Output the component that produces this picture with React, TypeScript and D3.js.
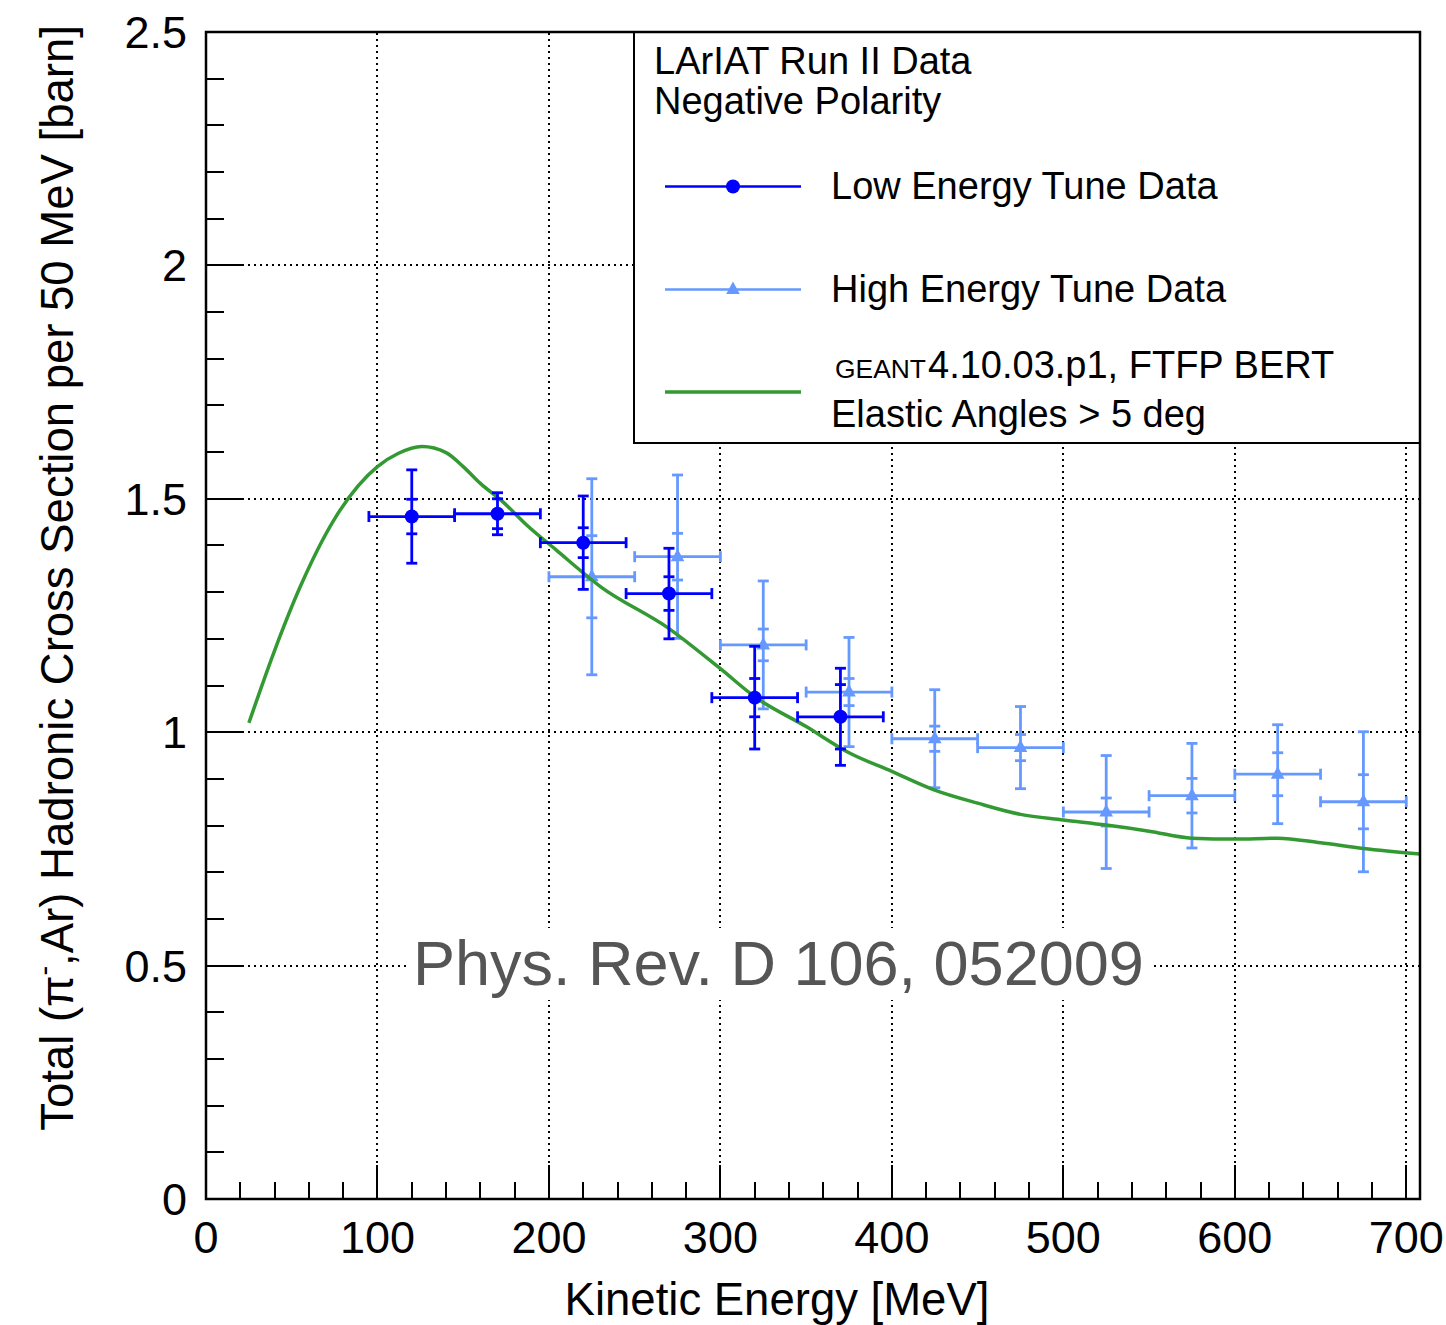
import React from "react";
import * as d3 from "d3";

// ---------- data ----------
const lowE = [120, 170, 220, 270, 320, 370];
const lowY = [1.462, 1.468, 1.406, 1.297, 1.074, 1.033];
const lowStat = [0.037, 0.032, 0.032, 0.036, 0.041, 0.069];
const lowTot = [0.1, 0.045, 0.1, 0.097, 0.11, 0.104];

const highE = [225, 275, 325, 375, 425, 475, 525, 575, 625, 675];
const highY = [1.333, 1.376, 1.187, 1.086, 0.986, 0.967, 0.829, 0.864, 0.91, 0.851];
const highStat = [0.088, 0.05, 0.034, 0.029, 0.027, 0.028, 0.03, 0.037, 0.046, 0.058];
const highTot = [0.21, 0.175, 0.137, 0.117, 0.105, 0.088, 0.121, 0.112, 0.106, 0.15];

const binHalfWidth = 25;

const g4E = [25, 40, 55, 75, 100, 112, 126, 140, 150, 160, 173, 187, 204, 230, 270, 300, 320, 350, 375, 400, 425, 450, 475, 500, 525, 550, 575, 600, 625, 650, 675, 708];
const g4Y = [1.02, 1.175, 1.312, 1.457, 1.569, 1.597, 1.612, 1.599, 1.569, 1.533, 1.494, 1.444, 1.391, 1.312, 1.222, 1.136, 1.076, 1.012, 0.956, 0.916, 0.876, 0.848, 0.824, 0.812, 0.801, 0.788, 0.773, 0.771, 0.773, 0.763, 0.751, 0.739];

const xMajorTicks = [0, 100, 200, 300, 400, 500, 600, 700];
const yMajorTicks = [0, 0.5, 1, 1.5, 2, 2.5];
const yTickLabels = ["0", "0.5", "1", "1.5", "2", "2.5"];

const legendTitle = ["LArIAT Run II Data", "Negative Polarity"];
const legendLow = "Low Energy Tune Data";
const legendHigh = "High Energy Tune Data";
const legendG4Small = "GEANT";
const legendG4Rest = "4.10.03.p1, FTFP BERT";
const legendG4Line2 = "Elastic Angles > 5 deg";
const watermark = "Phys. Rev. D 106, 052009";
const xTitle = "Kinetic Energy [MeV]";

// ---------- styles ----------
const DARK = "#0000ff";
const LIGHT = "#6699ff";
const GREEN = "#339933";
const FONT = "'Liberation Sans', Arial, Helvetica, sans-serif";

const L = 206, R = 1420, T = 32, B = 1199;

export default function App() {
  const x = d3.scaleLinear().domain([0, 708]).range([L, R]);
  const y = d3.scaleLinear().domain([0, 2.5]).range([B, T]);

  const xMinor = d3.range(20, 708, 20).filter((v) => v % 100 !== 0);
  const yMinor = d3.range(1, 25).map((v) => v / 10).filter((v) => Math.round(v * 10) % 5 !== 0);

  const line = d3
    .line<number>()
    .x((_, i) => x(g4E[i]))
    .y((d) => y(d))
    .curve(d3.curveMonotoneX);

  const cap = 5.5;

  const errorBars = (
    E: number[],
    Y: number[],
    S: number[],
    Tt: number[],
    color: string,
    marker: "circle" | "triangle"
  ) =>
    E.map((e, i) => {
      const cx = x(e);
      const cy = y(Y[i]);
      const x0 = x(e - binHalfWidth);
      const x1 = x(e + binHalfWidth);
      const yT1 = y(Y[i] + Tt[i]);
      const yT0 = y(Y[i] - Tt[i]);
      const yS1 = y(Y[i] + S[i]);
      const yS0 = y(Y[i] - S[i]);
      return (
        <g key={i} stroke={color} strokeWidth={2.8} fill={color}>
          <line x1={x0} x2={x1} y1={cy} y2={cy} />
          <line x1={x0} x2={x0} y1={cy - cap} y2={cy + cap} />
          <line x1={x1} x2={x1} y1={cy - cap} y2={cy + cap} />
          <line x1={cx} x2={cx} y1={yT1} y2={yT0} />
          <line x1={cx - cap} x2={cx + cap} y1={yT1} y2={yT1} />
          <line x1={cx - cap} x2={cx + cap} y1={yT0} y2={yT0} />
          <line x1={cx - cap} x2={cx + cap} y1={yS1} y2={yS1} />
          <line x1={cx - cap} x2={cx + cap} y1={yS0} y2={yS0} />
          {marker === "circle" ? (
            <circle cx={cx} cy={cy} r={7} stroke="none" />
          ) : (
            <path d={`M${cx},${cy - 8}L${cx + 6.8},${cy + 4.5}L${cx - 6.8},${cy + 4.5}Z`} stroke="none" />
          )}
        </g>
      );
    });

  return (
    <svg
      width={1446}
      height={1325}
      style={{ position: "absolute", left: 0, top: 0, background: "#fff" }}
      fontFamily={FONT}
    >
      <rect x={0} y={0} width={1446} height={1325} fill="#fff" />
      {/* grid */}
      <g stroke="#000" strokeWidth={2} strokeDasharray="2 4" shapeRendering="crispEdges">
        {xMajorTicks.filter((v) => v > 0).map((v) => (
          <line key={"gx" + v} x1={Math.round(x(v))} x2={Math.round(x(v))} y1={B} y2={T} />
        ))}
        {yMajorTicks.filter((v) => v > 0 && v < 2.5).map((v) => (
          <line key={"gy" + v} x1={L} x2={R} y1={Math.round(y(v))} y2={Math.round(y(v))} />
        ))}
      </g>

      {/* ticks */}
      <g stroke="#000" strokeWidth={2} shapeRendering="crispEdges">
        {xMajorTicks.map((v) => (
          <line key={"xt" + v} x1={Math.round(x(v))} x2={Math.round(x(v))} y1={B} y2={B - 34} />
        ))}
        {xMinor.map((v) => (
          <line key={"xm" + v} x1={Math.round(x(v))} x2={Math.round(x(v))} y1={B} y2={B - 17} />
        ))}
        {yMajorTicks.map((v) => (
          <line key={"yt" + v} x1={L} x2={L + 36} y1={Math.round(y(v))} y2={Math.round(y(v))} />
        ))}
        {yMinor.map((v) => (
          <line key={"ym" + v} x1={L} x2={L + 18} y1={Math.round(y(v))} y2={Math.round(y(v))} />
        ))}
      </g>

      {/* watermark with white backing */}
      <rect x={409} y={928} width={745} height={72} fill="#fff" />
      <text x={413} y={985} fontSize={63} fill="#555555">
        {watermark}
      </text>

      {/* light blue data */}
      {errorBars(highE, highY, highStat, highTot, LIGHT, "triangle")}

      {/* GEANT4 curve */}
      <path d={line(g4Y) || ""} fill="none" stroke={GREEN} strokeWidth={3.5} />

      {/* dark blue data */}
      {errorBars(lowE, lowY, lowStat, lowTot, DARK, "circle")}

      {/* legend */}
      <rect x={634} y={T} width={R - 634} height={443 - T} fill="#fff" stroke="#000" strokeWidth={2} />
      <g fontSize={38} fill="#000">
        <text x={654} y={74}>{legendTitle[0]}</text>
        <text x={654} y={114}>{legendTitle[1]}</text>
        <text x={831} y={199}>{legendLow}</text>
        <text x={831} y={302}>{legendHigh}</text>
        <text x={835} y={378} fontSize={25} textLength={91} lengthAdjust="spacingAndGlyphs">
          {legendG4Small}
        </text>
        <text x={928} y={378}>{legendG4Rest}</text>
        <text x={831} y={427}>{legendG4Line2}</text>
      </g>
      <line x1={665} x2={801} y1={186.5} y2={186.5} stroke={DARK} strokeWidth={2.5} />
      <circle cx={733} cy={186.5} r={7} fill={DARK} />
      <line x1={665} x2={801} y1={289.5} y2={289.5} stroke={LIGHT} strokeWidth={2.5} />
      <path d="M733,281.5L739.8,294L726.2,294Z" fill={LIGHT} />
      <line x1={665} x2={801} y1={392} y2={392} stroke={GREEN} strokeWidth={3.5} />

      {/* frame */}
      <rect x={L} y={T} width={R - L} height={B - T} fill="none" stroke="#000" strokeWidth={2.5} />

      {/* tick labels */}
      <g fontSize={45} fill="#000" textAnchor="middle">
        {xMajorTicks.map((v) => (
          <text key={"xl" + v} x={x(v)} y={1253}>
            {v}
          </text>
        ))}
      </g>
      <g fontSize={45} fill="#000" textAnchor="end">
        {yMajorTicks.map((v, i) => (
          <text key={"yl" + v} x={187} y={y(v) + 16}>
            {yTickLabels[i]}
          </text>
        ))}
      </g>

      {/* axis titles */}
      <text x={777} y={1315} fontSize={45.5} textAnchor="middle" fill="#000">
        {xTitle}
      </text>
      <text
        transform={`translate(73, 578) rotate(-90)`}
        fontSize={45.5}
        textAnchor="middle"
        fill="#000"
      >
        Total (π
        <tspan fontSize={29} dy={-19}>-</tspan>
        <tspan dy={19}>,Ar) Hadronic Cross Section per 50 MeV [barn]</tspan>
      </text>
    </svg>
  );
}
